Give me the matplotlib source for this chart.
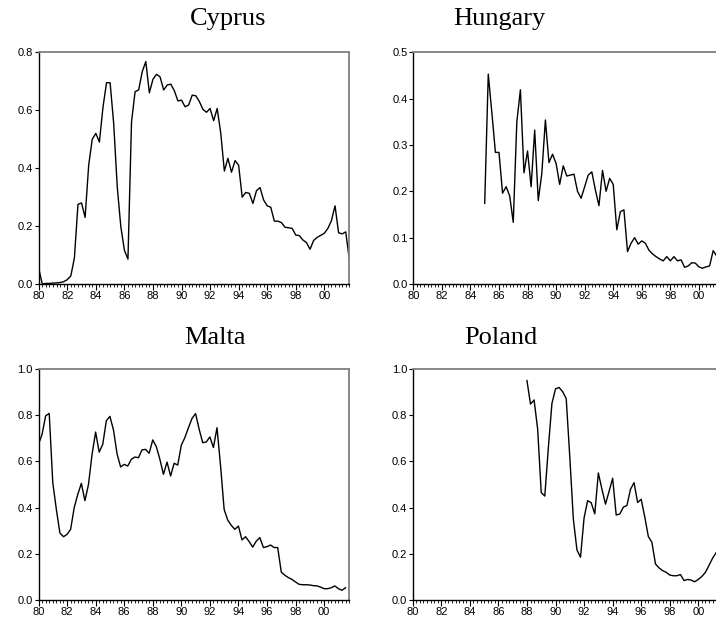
import numpy as np
import matplotlib.pyplot as plt
from matplotlib.ticker import MultipleLocator, FuncFormatter

# quarterly series, 1980Q1 .. 2001Q4 (start quarter given per country)
cyprus_start = 1980.0
cyprus = [0.054, 0.0, 0.002, 0.002, 0.003, 0.004, 0.005, 0.008, 0.015, 0.028,
          0.09, 0.275, 0.28, 0.23, 0.41, 0.50, 0.52, 0.49, 0.61, 0.695,
          0.695, 0.555, 0.336, 0.198, 0.117, 0.086, 0.56, 0.664, 0.67, 0.733,
          0.768, 0.66, 0.707, 0.724, 0.715, 0.67, 0.687, 0.69, 0.667, 0.632,
          0.635, 0.612, 0.618, 0.652, 0.65, 0.63, 0.603, 0.593, 0.606, 0.564,
          0.606, 0.52, 0.39, 0.434, 0.386, 0.426, 0.41, 0.30, 0.316, 0.313,
          0.278, 0.322, 0.333, 0.29, 0.27, 0.265, 0.217, 0.217, 0.212, 0.196,
          0.194, 0.192, 0.169, 0.167, 0.152, 0.143, 0.12, 0.15, 0.161, 0.168,
          0.175, 0.192, 0.219, 0.27, 0.177, 0.173, 0.18, 0.085]

hungary_start = 1985.0
hungary = [0.174, 0.453, 0.37, 0.284, 0.284, 0.196, 0.21, 0.19, 0.133, 0.35,
           0.419, 0.24, 0.287, 0.21, 0.332, 0.18, 0.239, 0.354, 0.262, 0.28,
           0.26, 0.215, 0.255, 0.233, 0.235, 0.237, 0.2, 0.185, 0.21, 0.235,
           0.242, 0.203, 0.169, 0.245, 0.2, 0.228, 0.215, 0.117, 0.156, 0.16,
           0.07, 0.088, 0.1, 0.086, 0.093, 0.088, 0.073, 0.065, 0.059, 0.054,
           0.05, 0.059, 0.05, 0.059, 0.05, 0.052, 0.036, 0.039, 0.046, 0.045,
           0.037, 0.034, 0.037, 0.039, 0.072, 0.06]

malta_start = 1980.0
malta = [0.674, 0.717, 0.797, 0.808, 0.508, 0.392, 0.29, 0.274, 0.284, 0.306,
         0.4, 0.457, 0.505, 0.43, 0.5, 0.63, 0.727, 0.64, 0.674, 0.776,
         0.795, 0.736, 0.633, 0.576, 0.587, 0.58, 0.609, 0.619, 0.616, 0.65,
         0.652, 0.635, 0.693, 0.664, 0.609, 0.544, 0.597, 0.537, 0.592, 0.584,
         0.67, 0.703, 0.746, 0.786, 0.807, 0.739, 0.681, 0.684, 0.706, 0.66,
         0.746, 0.58, 0.392, 0.346, 0.323, 0.306, 0.32, 0.26, 0.274, 0.253,
         0.229, 0.255, 0.27, 0.227, 0.231, 0.238, 0.227, 0.227, 0.121, 0.107,
         0.097, 0.089, 0.078, 0.068, 0.066, 0.066, 0.065, 0.062, 0.061, 0.056,
         0.049, 0.049, 0.053, 0.061, 0.049, 0.042, 0.053]

poland_start = 1988.0
poland = [0.95, 0.848, 0.866, 0.74, 0.465, 0.45, 0.66, 0.851, 0.914, 0.92,
          0.902, 0.872, 0.62, 0.35, 0.217, 0.185, 0.355, 0.43, 0.421, 0.373,
          0.55, 0.48, 0.415, 0.47, 0.527, 0.368, 0.372, 0.402, 0.409, 0.479,
          0.508, 0.422, 0.436, 0.36, 0.275, 0.25, 0.156, 0.139, 0.127, 0.12,
          0.108, 0.105, 0.105, 0.11, 0.084, 0.089, 0.086, 0.079, 0.089, 0.102,
          0.12, 0.15, 0.181, 0.205]

W, H = 716, 627
fig = plt.figure(figsize=(W / 100, H / 100), dpi=100)

def add_panel(rect, title, title_xy, start, values, ymax, ystep):
    l, t, r, b = rect
    ax = fig.add_axes([l / W, 1 - b / H, (r - l) / W, (b - t) / H])
    x = start + np.arange(len(values)) / 4
    ax.plot(x, values, color='black', lw=1.0)
    ax.set_xlim(1980, 2001.75)
    ax.set_ylim(0, ymax)
    ax.xaxis.set_major_locator(MultipleLocator(2))
    ax.xaxis.set_minor_locator(MultipleLocator(0.25))
    ax.xaxis.set_major_formatter(FuncFormatter(lambda v, p: '%02d' % (int(round(v)) % 100)))
    ax.yaxis.set_major_locator(MultipleLocator(ystep))
    ax.yaxis.set_major_formatter(FuncFormatter(lambda v, p: '%.1f' % v))
    ax.tick_params(axis='x', which='major', direction='out', length=4, width=0.8,
                   pad=1, labelsize=8)
    ax.tick_params(axis='x', which='minor', direction='out', length=2.5, width=0.6)
    ax.tick_params(axis='y', which='major', direction='out', length=3, width=0.8,
                   pad=1, labelsize=8)
    for s in ('top', 'right'):
        ax.spines[s].set_color('#7f7f7f')
        ax.spines[s].set_linewidth(1.3)
    for s in ('left', 'bottom'):
        ax.spines[s].set_color('black')
        ax.spines[s].set_linewidth(1.0)
    for lab in ax.get_xticklabels() + ax.get_yticklabels():
        lab.set_family('Liberation Sans')
    fig.text(title_xy[0] / W, 1 - title_xy[1] / H, title, ha='center',
             va='baseline', family='Liberation Serif', fontsize=19)
    return ax

add_panel((38.7, 52.3, 349.3, 284), 'Cyprus', (228, 25), cyprus_start, cyprus, 0.8, 0.2)
add_panel((413.3, 52.3, 723.9, 284), 'Hungary', (499, 25), hungary_start, hungary, 0.5, 0.1)
add_panel((38.5, 369, 349.1, 600), 'Malta', (215, 344), malta_start, malta, 1.0, 0.2)
add_panel((412.7, 369, 723.3, 600), 'Poland', (501, 344), poland_start, poland, 1.0, 0.2)

fig.savefig('out.png', dpi=100)
